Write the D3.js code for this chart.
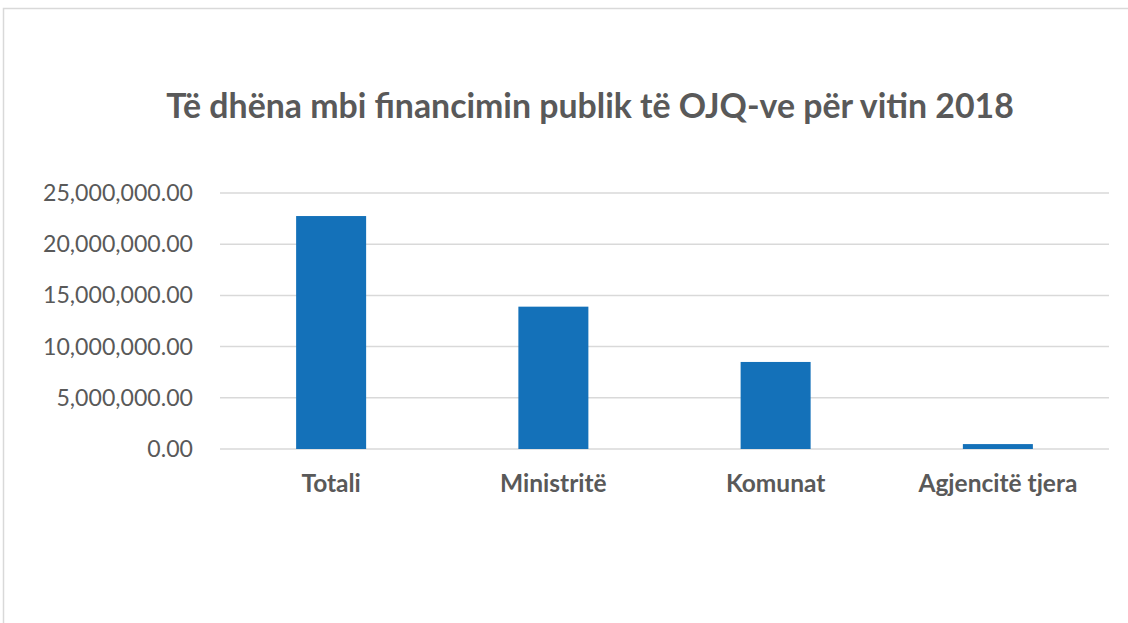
<!DOCTYPE html>
<html><head><meta charset="utf-8">
<script src="https://cdn.jsdelivr.net/npm/d3@7/dist/d3.min.js"></script>
<style>body{margin:0;background:#fff}svg{display:block}</style>
</head><body>
<script>
const title = "Të dhëna mbi financimin publik të OJQ-ve për vitin 2018";
const categories = ["Totali", "Ministritë", "Komunat", "Agjencitë tjera"];
const values = [22750000, 13900000, 8500000, 480000];
const yTicks = [0, 5000000, 10000000, 15000000, 20000000, 25000000];

const W = 1128, H = 623;
const svg = d3.select("body").append("svg").attr("width", W).attr("height", H);
const font = "Lato, 'Open Sans', sans-serif";
const grey = "#595959";

svg.append("rect").attr("x", 3.5).attr("y", 8.5).attr("width", W + 10).attr("height", H + 10)
  .attr("fill", "none").attr("stroke", "#d9d9d9").attr("stroke-width", 1.5);

const m = {left: 220, right: 1109, top: 193, bottom: 449};
const x = d3.scaleBand().domain(categories).range([m.left, m.right]).paddingInner(0.685).paddingOuter(0.3425);
const y = d3.scaleLinear().domain([0, 25000000]).range([m.bottom, m.top]);

// gridlines
svg.append("g").selectAll("line").data(yTicks).join("line")
  .attr("x1", m.left).attr("x2", m.right)
  .attr("y1", d => y(d)).attr("y2", d => y(d))
  .attr("stroke", "#d9d9d9").attr("stroke-width", 1.5);

// y labels
const fmt = d3.format(",.2f");
const yl = svg.append("g").selectAll("text").data(yTicks).join("text")
  .attr("x", 193).attr("y", d => y(d)).attr("dy", "0.35em")
  .attr("text-anchor", "end").attr("fill", grey)
  .style("font-family", font).style("font-size", "18px")
  .text(d => fmt(d));

// bars
svg.append("g").selectAll("rect").data(values).join("rect")
  .attr("x", (d, i) => x(categories[i]))
  .attr("width", x.bandwidth())
  .attr("y", d => y(d))
  .attr("height", d => y(0) - y(d))
  .attr("fill", "#1471b9");

// x labels
const xl = svg.append("g").selectAll("text").data(categories).join("text")
  .attr("x", d => x(d) + x.bandwidth() / 2).attr("y", 492)
  .attr("text-anchor", "middle").attr("fill", grey)
  .style("font-family", font).style("font-size", "18px").style("font-weight", "bold")
  .text(d => d);

// title
const t = svg.append("text").attr("x", 590).attr("y", 118)
  .attr("text-anchor", "middle").attr("fill", grey)
  .style("font-family", font).style("font-size", "28px").style("font-weight", "bold")
  .text(title);

// fit font sizes to reference widths
function fit(sel, node, target, base) {
  const w = node.getComputedTextLength();
  sel.style("font-size", (base * target / w).toFixed(2) + "px");
}
fit(t, t.node(), 848, 28);
fit(yl, yl.nodes()[5], 150, 18);
fit(xl, xl.nodes()[3], 159, 18);
</script>
</body></html>
